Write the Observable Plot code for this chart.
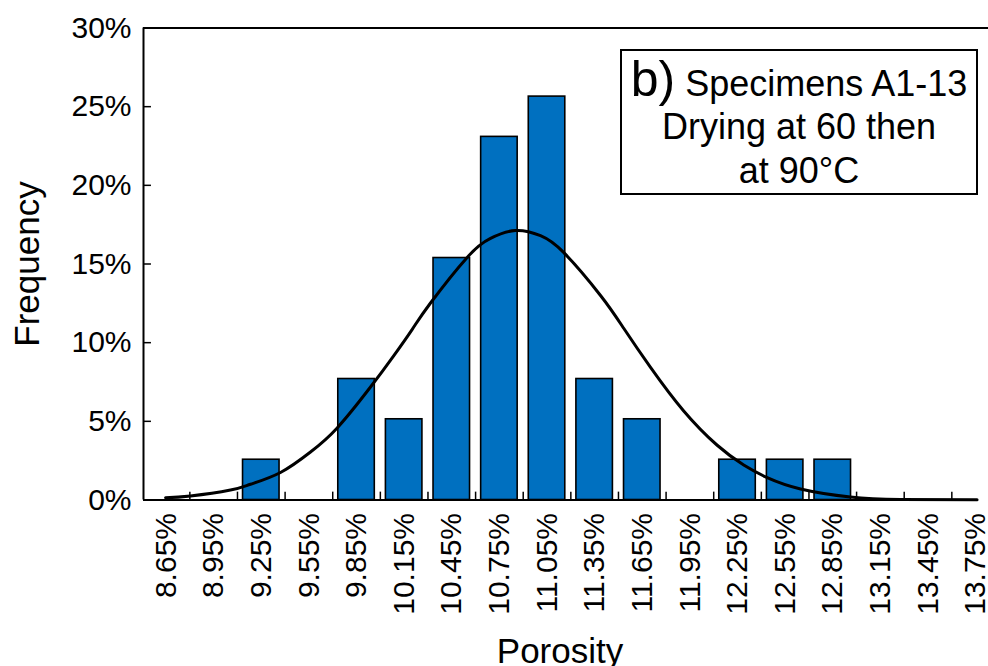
<!DOCTYPE html>
<html>
<head>
<meta charset="utf-8">
<script src="https://cdn.jsdelivr.net/npm/d3@7"></script>
<script src="https://cdn.jsdelivr.net/npm/@observablehq/plot@0.6"></script>
<style>
  html, body { margin: 0; padding: 0; background: white; }
  #wrap { position: relative; width: 988px; height: 666px; overflow: hidden; }
  #legend {
    position: absolute; left: 620px; top: 49px; width: 354px; height: 142px;
    border: 2px solid black; background: white;
    font-family: "Liberation Sans", Arial, sans-serif; color: black;
  }
  #legend .ln { position: absolute; left: 0; width: 100%; text-align: center; font-size: 36px; line-height: 36px; white-space: nowrap; }
  #legend .b { font-size: 50px; line-height: 0; }
</style>
</head>
<body>
<div id="wrap"><div id="legend"><div class="ln" style="top:15px"><span class="b">b)</span> Specimens A1-13</div><div class="ln" style="top:58px">Drying at 60 then</div><div class="ln" style="top:102px">at 90°C</div></div></div>
<script>
// Bin centres (porosity, %) and tick labels
const binCenters = [8.65, 8.95, 9.25, 9.55, 9.85, 10.15, 10.45, 10.75, 11.05, 11.35, 11.65, 11.95, 12.25, 12.55, 12.85, 13.15, 13.45, 13.75];
const binLabels = ["8.65%", "8.95%", "9.25%", "9.55%", "9.85%", "10.15%", "10.45%", "10.75%", "11.05%", "11.35%", "11.65%", "11.95%", "12.25%", "12.55%", "12.85%", "13.15%", "13.45%", "13.75%"];
// Frequency per bin (%)
const frequency = [0, 0, 2.56, 0, 7.69, 5.13, 15.38, 23.08, 25.64, 7.69, 5.13, 0, 2.56, 2.56, 2.56, 0, 0, 0];
// Bin edges where small ticks are drawn
const binEdges = [8.8, 9.1, 9.4, 9.7, 10.0, 10.3, 10.6, 10.9, 11.2, 11.5, 11.8, 12.1, 12.4, 12.7, 13.0, 13.3, 13.6];
// Fitted normal curve
const curveX = [8.647, 8.804, 9.056, 9.182, 9.371, 9.560, 9.728, 9.938, 10.085, 10.201, 10.316, 10.547, 10.694, 10.851, 11.009, 11.156, 11.387, 11.534, 11.702, 11.911, 12.122, 12.289, 12.437, 12.647, 12.961, 13.276, 13.759];
const curveY = [0.14, 0.25, 0.63, 1.0, 1.75, 3.05, 4.58, 7.18, 9.18, 10.85, 12.52, 15.42, 16.63, 17.13, 16.80, 15.72, 13.0, 10.9, 8.43, 5.66, 3.48, 2.22, 1.42, 0.70, 0.19, 0.03, 0.01];
// Y ticks
const yTicks = [0, 5, 10, 15, 20, 25, 30];
const yTickLabels = ["0%", "5%", "10%", "15%", "20%", "25%", "30%"];

const xMin = 8.508, xMax = 13.831, axisEnd = 13.755;
const bars = binCenters.map((c, i) => ({x: c, f: frequency[i]})).filter(d => d.f > 0);
const curve = curveX.map((x, i) => ({x, y: curveY[i]}));

const chart = Plot.plot({
  width: 988,
  height: 666,
  marginLeft: 143,
  marginRight: 0,
  marginTop: 27.5,
  marginBottom: 166.5,
  style: {fontFamily: "'Liberation Sans', Arial, sans-serif", fontSize: "30px", color: "black", background: "transparent", overflow: "visible"},
  x: {type: "linear", domain: [xMin, xMax]},
  y: {domain: [0, 30]},
  marks: [
    Plot.rectY(bars, {x1: d => d.x - 0.115, x2: d => d.x + 0.115, y1: 0, y2: "f", fill: "#0070C0", stroke: "black", strokeWidth: 1.6}),
    Plot.ruleX(binEdges, {y1: 0, y2: 0.5, stroke: "black", strokeWidth: 1.5}),
    Plot.line(curve, {x: "x", y: "y", curve: "natural", stroke: "black", strokeWidth: 3}),
    Plot.ruleY([0], {x1: xMin, x2: axisEnd, stroke: "black", strokeWidth: 2}),
    Plot.ruleY([30], {x1: xMin, x2: xMax, stroke: "black", strokeWidth: 2}),
    Plot.ruleX([xMin], {y1: 0, y2: 30, stroke: "black", strokeWidth: 2}),
    Plot.ruleY(yTicks.slice(1, -1), {x1: xMin, x2: xMin + 0.05, stroke: "black", strokeWidth: 1.5}),
    Plot.axisY(yTicks, {tickSize: 0, tickPadding: 12, tickFormat: (d, i) => yTickLabels[i], label: null}),
    Plot.axisX(binCenters, {tickSize: 0, tickPadding: 13, tickRotate: -90, tickFormat: (d, i) => binLabels[i], label: null}),
    Plot.text(["Frequency"], {frameAnchor: "left", dx: -116, rotate: -90, textAnchor: "middle", fontSize: 35, fill: "black"}),
    Plot.text(["Porosity"], {frameAnchor: "bottom", dx: -6, dy: 163, fontSize: 35, fill: "black"})
  ]
});
const wrap = document.getElementById("wrap");
wrap.insertBefore(chart, wrap.firstChild);
</script>
</body>
</html>
